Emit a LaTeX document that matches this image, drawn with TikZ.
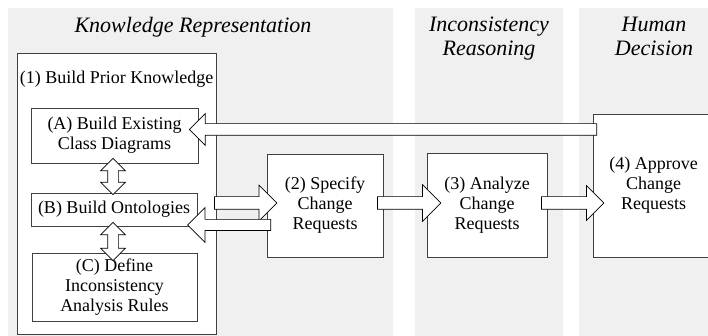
\documentclass[tikz,border=0pt]{standalone}
\usepackage{fontspec}
\setmainfont{Liberation Serif}
\usetikzlibrary{shapes.arrows, calc}

\begin{document}
\begin{tikzpicture}[x=1pt, y=-1pt, font=\fontsize{18}{20}\selectfont,
      lane/.style={fill=black!6, draw=none},
      lanetitle/.style={font=\fontsize{22}{24}\selectfont\itshape, align=center, anchor=north, inner sep=0pt},
      box/.style={draw=black!75, fill=white, line width=0.8pt, align=center, inner sep=0pt},
      onehead/.style={single arrow, draw=black, fill=white, line width=0.7pt, inner xsep=0pt, minimum width=0pt, single arrow head indent=0pt},
      twohead/.style={double arrow, draw=black, fill=white, line width=0.7pt, inner xsep=0pt, minimum width=0pt, double arrow head indent=0pt},
      fat/.style={to path={let \p1=(\tikztostart), \p2=(\tikztotarget) in
        node[#1, minimum height={veclen(\x2-\x1,\y2-\y1)}, rotate={atan2(\y2-\y1,\x2-\x1)}] at ($(\p1)!0.5!(\p2)$) {}}}]
  \useasboundingbox (0,0) rectangle (708,336);
  \clip (0,0) rectangle (708,336);
  % lanes
  \fill[lane] (8,8) rectangle (393,340);
  \fill[lane] (415,8) rectangle (563,340);
  \fill[lane] (579,8) rectangle (730,340);
  \node[lanetitle] (krtitle) at (193,17) {Knowledge Representation};
  \node[lanetitle] (irtitle) at (489,17) {Inconsistency\\Reasoning};
  \node[lanetitle] (hdtitle) at (654,17) {Human\\Decision};
  % boxes
  \node[box, minimum width=199, minimum height=281] (prior) at (116.5,193.5) {};
  \node[anchor=base] (priorhead) at (116.5,84) {(1) Build Prior Knowledge};
  \node[box, minimum width=167, minimum height=55] (classdiag) at (114.5,135.5) {(A) Build Existing\\Class Diagrams};
  \node[box, minimum width=166, minimum height=33] (onto) at (114,209.5) {(B) Build Ontologies};
  \node[box, minimum width=165, minimum height=68] (rules) at (114.5,287) {(C) Define\\Inconsistency\\Analysis Rules};
  \node[box, minimum width=116, minimum height=103] (specify) at (325,205.5) {(2) Specify\\Change\\Requests};
  \node[box, minimum width=120, minimum height=104] (analyze) at (487,205) {(3) Analyze\\Change\\Requests};
  \node[box, minimum width=121, minimum height=143] (approve) at (653.5,185.5) {(4) Approve\\Change\\Requests};
  % block arrows
  \path ($(approve.west |- classdiag.east)+(7,-6)$) to[fat={onehead, inner ysep=5.5pt, single arrow head extend=10pt}] ($(classdiag.east)+(-6,-6)$);
  \path ($(classdiag.south)+(-1.5,-5)$) to[fat={twohead, inner ysep=5pt, double arrow head extend=7pt}] ($(classdiag.south |- onto.north)+(-1.5,2)$);
  \path ($(onto.south)+(-1,-4)$) to[fat={twohead, inner ysep=5pt, double arrow head extend=7pt}] ($(onto.south |- rules.north)+(-1,8)$);
  \path ($(onto.east)+(14,-6.5)$) to[fat={onehead, inner ysep=6pt, single arrow head extend=11.5pt}] ($(specify.west |- onto.east)+(7,-6.5)$);
  \path ($(specify.west |- onto.east)+(7,15.5)$) to[fat={onehead, inner ysep=5.25pt, single arrow head extend=11.75pt}] ($(onto.east)+(-7,15.5)$);
  \path ($(specify.east)+(-9,-2.5)$) to[fat={onehead, inner ysep=6pt, single arrow head extend=12pt}] ($(analyze.west |- specify.east)+(11,-2.5)$);
  \path ($(analyze.east)+(-9,-2)$) to[fat={onehead, inner ysep=6pt, single arrow head extend=11pt}] ($(approve.west |- analyze.east)+(8,-2)$);
\end{tikzpicture}
\end{document}
